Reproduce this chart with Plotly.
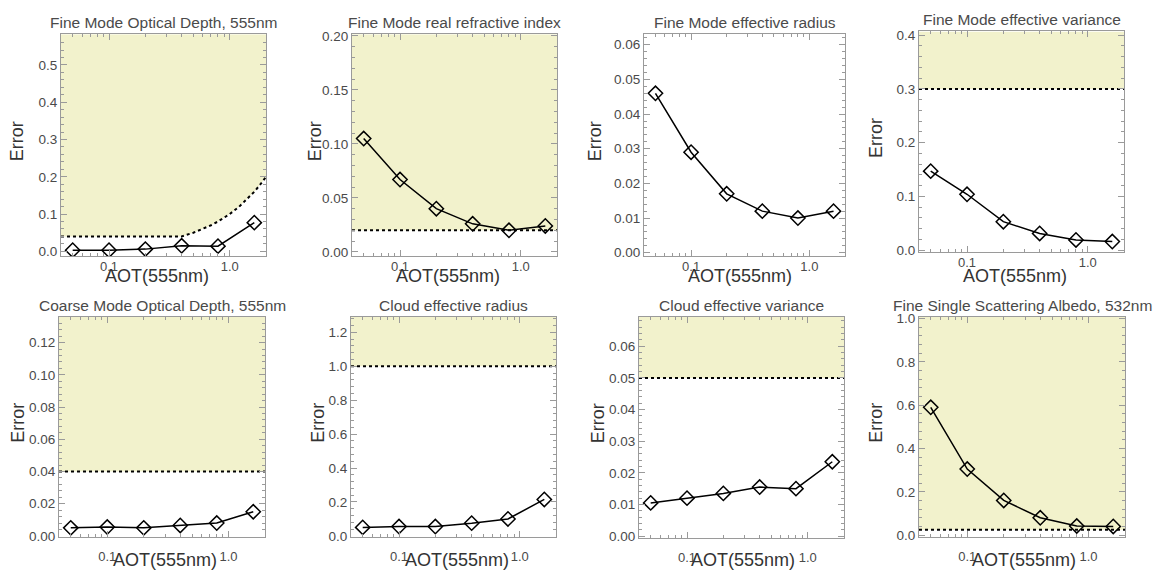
import plotly.graph_objects as go
import math

W, H = 1156, 575

aot = [0.05, 0.1, 0.2, 0.4, 0.8, 1.6]

titles = [
    "Fine Mode Optical Depth, 555nm",
    "Fine Mode real refractive index",
    "Fine Mode effective radius",
    "Fine Mode effective variance",
    "Coarse Mode Optical Depth, 555nm",
    "Cloud effective radius",
    "Cloud effective variance",
    "Fine Single Scattering Albedo, 532nm",
]

err_fine_aod = [0.003, 0.003, 0.006, 0.015, 0.014, 0.077]
err_fine_mr = [0.105, 0.067, 0.040, 0.026, 0.020, 0.024]
err_fine_reff = [0.046, 0.029, 0.017, 0.012, 0.010, 0.012]
err_fine_veff = [0.147, 0.104, 0.053, 0.031, 0.019, 0.016]
err_coarse_aod = [0.005, 0.0055, 0.005, 0.0065, 0.008, 0.015]
err_cloud_reff = [0.05, 0.055, 0.055, 0.075, 0.10, 0.215]
err_cloud_veff = [0.0105, 0.012, 0.0135, 0.0155, 0.015, 0.0235]
err_fine_ssa = [0.59, 0.305, 0.16, 0.08, 0.042, 0.04]

series = [err_fine_aod, err_fine_mr, err_fine_reff, err_fine_veff,
          err_coarse_aod, err_cloud_reff, err_cloud_veff, err_fine_ssa]

# requirement thresholds (x, y); None = not shown
thr_fine_aod_x = [0.04, 0.1, 0.2, 0.4, 0.5, 0.6, 0.7, 0.8, 0.9, 1.0, 1.2, 1.4, 1.6, 1.8, 2.0]
thr_fine_aod_y = [0.04, 0.04, 0.04, 0.04, 0.05, 0.06, 0.07, 0.08, 0.09, 0.10, 0.12, 0.14, 0.16, 0.18, 0.20]
thr_x_full = [0.04, 2.0]
thresholds = [
    (thr_fine_aod_x, thr_fine_aod_y),
    (thr_x_full, [0.02, 0.02]),
    None,
    (thr_x_full, [0.30, 0.30]),
    (thr_x_full, [0.04, 0.04]),
    (thr_x_full, [1.0, 1.0]),
    (thr_x_full, [0.05, 0.05]),
    (thr_x_full, [0.025, 0.025]),
]

y_ranges = [
    [-0.013, 0.582], [-0.004, 0.2015], [-0.001, 0.063], [-0.004, 0.407],
    [-0.0005, 0.136], [-0.005, 1.292], [-0.0005, 0.0693], [-0.0075, 1.0075],
]
y_dticks = [0.1, 0.05, 0.01, 0.1, 0.02, 0.2, 0.01, 0.2]
y_fmts = [".1f", ".2f", ".2f", ".1f", ".2f", ".1f", ".2f", ".1f"]

# panel boxes in pixels: x0, x1, ytop, ybottom
boxes = [
    (61, 266, 29, 256), (352, 557, 29, 256), (644, 845, 29, 256), (919, 1124, 26, 252),
    (59, 265, 318, 543), (351, 556, 318, 543), (639, 844, 318, 544), (919, 1125, 318, 543),
]
error_lbl_x = [17, 315, 595, 876, 18, 318, 598, 876]
aot_lbl_x = [157, 448, 740, 1015, 165, 457, 743, 1024]

fill_col = "#F2F2CC"
txt = "#4a4a4a"
axc = "#9a9a9a"
FONT = "Liberation Sans, Arial"

fig = go.Figure()
annotations = []
xr = [math.log10(0.04), math.log10(2.0)]
minor_x = [0.05, 0.06, 0.07, 0.08, 0.09, 0.2, 0.3, 0.4, 0.5, 0.6, 0.7, 0.8, 0.9, 2.0]

for i in range(8):
    n = "" if i == 0 else str(i + 1)
    x0, x1, yt, yb = boxes[i]
    xa = "x" + n
    ya = "y" + n
    yr = y_ranges[i]
    if thresholds[i] is not None:
        tx, ty = thresholds[i]
        fig.add_trace(go.Scatter(x=tx, y=ty, mode="lines", line=dict(width=0),
                                 xaxis=xa, yaxis=ya, hoverinfo="skip", showlegend=False))
        fig.add_trace(go.Scatter(x=tx, y=[yr[1]] * len(tx), mode="lines", line=dict(width=0),
                                 fill="tonexty", fillcolor=fill_col,
                                 xaxis=xa, yaxis=ya, hoverinfo="skip", showlegend=False))
        fig.add_trace(go.Scatter(x=tx, y=ty, mode="lines",
                                 line=dict(color="black", width=2, dash="dot"),
                                 xaxis=xa, yaxis=ya, hoverinfo="skip", showlegend=False))
    fig.add_trace(go.Scatter(x=aot, y=series[i], mode="lines+markers",
                             line=dict(color="black", width=1.5),
                             marker=dict(symbol="diamond-open", size=11, color="black",
                                         line=dict(width=1.5, color="black")),
                             xaxis=xa, yaxis=ya, showlegend=False))
    fig.layout["xaxis" + n] = dict(
        domain=[x0 / W, x1 / W], anchor=ya, type="log", range=xr,
        tickmode="array", tickvals=[0.1, 1.0], ticktext=["0.1", "1.0"],
        ticks="inside", ticklen=6, tickcolor=axc, mirror="allticks",
        showline=True, linecolor=axc, linewidth=1, showgrid=False, zeroline=False,
        ticklabelstandoff=-2 if i < 4 else 8,
        tickfont=dict(family=FONT, size=13, color=txt),
        minor=dict(tickmode="array", tickvals=minor_x, ticks="inside", ticklen=3,
                   tickcolor=axc, showgrid=False),
    )
    fig.layout["yaxis" + n] = dict(
        domain=[1 - yb / H, 1 - yt / H], anchor=xa, range=yr,
        tick0=0, dtick=y_dticks[i], tickformat=y_fmts[i],
        ticks="inside", ticklen=6, tickcolor=axc, mirror="allticks",
        showline=True, linecolor=axc, linewidth=1, showgrid=False, zeroline=False,
        tickfont=dict(family=FONT, size=13.5, color=txt),
        minor=dict(dtick=y_dticks[i] / 5, tick0=0, ticks="inside", ticklen=3,
                   tickcolor=axc, showgrid=False),
    )
    # titles
    annotations.append(dict(text=titles[i], x=(x0 + x1) / 2 / W, y=1 - (yt - 12) / H,
                            xref="paper", yref="paper", showarrow=False,
                            xanchor="center", yanchor="middle",
                            font=dict(family=FONT, size=15.5, color=txt)))
    annotations.append(dict(text="Error", x=error_lbl_x[i] / W, y=1 - ((yt + yb) / 2 - 4) / H,
                            xref="paper", yref="paper", showarrow=False, textangle=-90,
                            xanchor="center", yanchor="middle",
                            font=dict(family=FONT, size=18, color="#333333")))
    aot_y = 276 if i < 4 else 567
    annotations.append(dict(text="AOT(555nm)", x=aot_lbl_x[i] / W, y=1 - aot_y / H,
                            xref="paper", yref="paper", showarrow=False,
                            xanchor="center", yanchor="middle",
                            font=dict(family=FONT, size=18, color="#333333")))

fig.update_layout(
    width=W, height=H, margin=dict(l=0, r=0, t=0, b=0),
    paper_bgcolor="white", plot_bgcolor="white",
    annotations=annotations, showlegend=False,
)
fig.write_html("out.html")
